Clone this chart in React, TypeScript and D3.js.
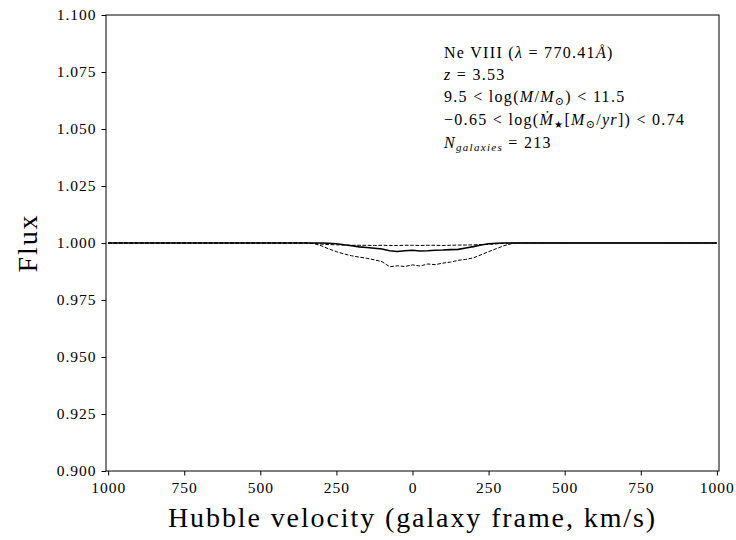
import React, { useEffect, useRef } from 'react';
import * as d3 from 'd3';

// velocity grid (km/s) and flux curves
const velocity = [-1000, -350, -325, -300, -275, -250, -225, -200, -175, -150, -125, -100, -75, -50, -25, 0,
  25, 50, 75, 100, 125, 150, 175, 200, 225, 250, 275, 300, 325, 350, 1000];

const fluxMean = [1.0, 1.0, 1.0, 1.0, 0.9999, 0.9997, 0.9992, 0.9988, 0.9983, 0.9980, 0.9977, 0.9974, 0.9966, 0.9963, 0.9966, 0.9968,
  0.9965, 0.9966, 0.9968, 0.9969, 0.9971, 0.9972, 0.9978, 0.9984, 0.9991, 0.9997, 0.9999, 1.0, 1.0, 1.0, 1.0];

const fluxLow = [1.0, 1.0, 0.9998, 0.9988, 0.9974, 0.9962, 0.9952, 0.9944, 0.9938, 0.9933, 0.9926, 0.9918, 0.9896, 0.9900, 0.9897, 0.9904,
  0.9899, 0.9908, 0.9905, 0.9912, 0.9916, 0.9924, 0.9928, 0.9935, 0.9948, 0.9962, 0.9975, 0.9988, 0.9997, 1.0, 1.0];

const fluxHigh = [1.0, 1.0, 0.9998, 0.9995, 0.9993, 0.9992, 0.9991, 0.9990, 0.9990, 0.9990, 0.9989, 0.9990, 0.9989, 0.9989, 0.9990, 0.9990,
  0.9989, 0.9990, 0.9990, 0.9989, 0.9990, 0.9991, 0.9991, 0.9992, 0.9993, 0.9994, 0.9996, 0.9999, 1.0, 1.0, 1.0];

const xTicks = [-1000, -750, -500, -250, 0, 250, 500, 750, 1000];
const yTicks = [0.9, 0.925, 0.95, 0.975, 1.0, 1.025, 1.05, 1.075, 1.1];

const font = '"Liberation Serif", "DejaVu Serif", serif';

export default function App() {
  const ref = useRef<SVGSVGElement>(null);

  useEffect(() => {
    const svg = d3.select(ref.current);
    svg.selectAll('*').remove();

    const left = 106, right = 719, top = 15, bottom = 471;

    const x = d3.scaleLinear().domain([-1007, 1007]).range([left, right]);
    const y = d3.scaleLinear().domain([0.9, 1.1]).range([bottom, top]);

    svg.append('rect').attr('width', 736).attr('height', 540).attr('fill', '#fff');

    const g = svg.append('g');

    const line = d3.line<number>()
      .x((d, i) => x(velocity[i]))
      .y(d => y(d));

    g.append('path').datum(fluxLow).attr('d', line)
      .attr('fill', 'none').attr('stroke', '#000').attr('stroke-width', 1)
      .attr('stroke-dasharray', '3.7,1.6');
    g.append('path').datum(fluxHigh).attr('d', line)
      .attr('fill', 'none').attr('stroke', '#000').attr('stroke-width', 1)
      .attr('stroke-dasharray', '3.7,1.6');
    g.append('path').datum(fluxMean).attr('d', line)
      .attr('fill', 'none').attr('stroke', '#000').attr('stroke-width', 1.6);

    // frame
    g.append('rect')
      .attr('x', left).attr('y', top)
      .attr('width', right - left).attr('height', bottom - top)
      .attr('fill', 'none').attr('stroke', '#000').attr('stroke-width', 1);

    const xAxis = d3.axisBottom(x)
      .tickValues(xTicks)
      .tickSize(4.5)
      .tickPadding(6)
      .tickFormat(d => String(Math.abs(+d)));
    const xg = svg.append('g').attr('transform', `translate(0,${bottom})`).call(xAxis);
    xg.select('.domain').remove();
    xg.selectAll('text').attr('font-size', 15.5).attr('letter-spacing', 1).attr('font-family', font).attr('fill', '#000');

    const yAxis = d3.axisLeft(y)
      .tickValues(yTicks)
      .tickSize(4.5)
      .tickPadding(5)
      .tickFormat(d3.format('.3f'));
    const yg = svg.append('g').attr('transform', `translate(${left},0)`).call(yAxis);
    yg.select('.domain').remove();
    yg.selectAll('text').attr('font-size', 15.5).attr('letter-spacing', 1).attr('font-family', font).attr('fill', '#000');

    svg.append('text')
      .attr('x', x(0)).attr('y', 527)
      .attr('text-anchor', 'middle')
      .attr('font-family', font).attr('font-size', 28).attr('letter-spacing', 1.9)
      .text('Hubble velocity (galaxy frame, km/s)');

    svg.append('text')
      .attr('transform', `translate(37,${y(1.0)}) rotate(-90)`)
      .attr('text-anchor', 'middle')
      .attr('font-family', font).attr('font-size', 28).attr('letter-spacing', 1.9)
      .text('Flux');

    // annotation block
    const ann = svg.append('g').attr('font-family', font).attr('font-size', 16)
      .attr('letter-spacing', 1.3).attr('fill', '#000');
    const tx = 444;

    const l1 = ann.append('text').attr('x', tx).attr('y', 58);
    l1.append('tspan').text('Ne VIII (');
    l1.append('tspan').attr('font-style', 'italic').text('λ');
    l1.append('tspan').text(' = 770.41');
    l1.append('tspan').attr('font-style', 'italic').text('Å');
    l1.append('tspan').text(')');

    const l2 = ann.append('text').attr('x', tx).attr('y', 80);
    l2.append('tspan').attr('font-style', 'italic').text('z');
    l2.append('tspan').text(' = 3.53');

    const l3 = ann.append('text').attr('x', tx).attr('y', 102);
    l3.append('tspan').text('9.5 < log(');
    l3.append('tspan').attr('font-style', 'italic').text('M');
    l3.append('tspan').text('/');
    l3.append('tspan').attr('font-style', 'italic').text('M');
    l3.append('tspan').attr('font-size', 11).attr('dy', 3).text('⊙');
    l3.append('tspan').attr('dy', -3).text(') < 11.5');

    const l4 = ann.append('text').attr('x', tx).attr('y', 125);
    l4.append('tspan').text('−0.65 < log(');
    l4.append('tspan').attr('font-style', 'italic').text('Ṁ');
    l4.append('tspan').attr('font-size', 10).attr('dy', 3).text('★');
    l4.append('tspan').attr('dy', -3).text('[');
    l4.append('tspan').attr('font-style', 'italic').text('M');
    l4.append('tspan').attr('font-size', 11).attr('dy', 3).text('⊙');
    l4.append('tspan').attr('dy', -3).text('/');
    l4.append('tspan').attr('font-style', 'italic').text('yr');
    l4.append('tspan').text(']) < 0.74');

    const l5 = ann.append('text').attr('x', tx).attr('y', 148);
    l5.append('tspan').attr('font-style', 'italic').text('N');
    l5.append('tspan').attr('font-style', 'italic').attr('font-size', 11).attr('dy', 3).text('galaxies');
    l5.append('tspan').attr('dy', -3).text(' = 213');
  }, []);

  return <svg ref={ref} width={736} height={540} style={{ position: 'absolute', left: 0, top: 0 }} />;
}
